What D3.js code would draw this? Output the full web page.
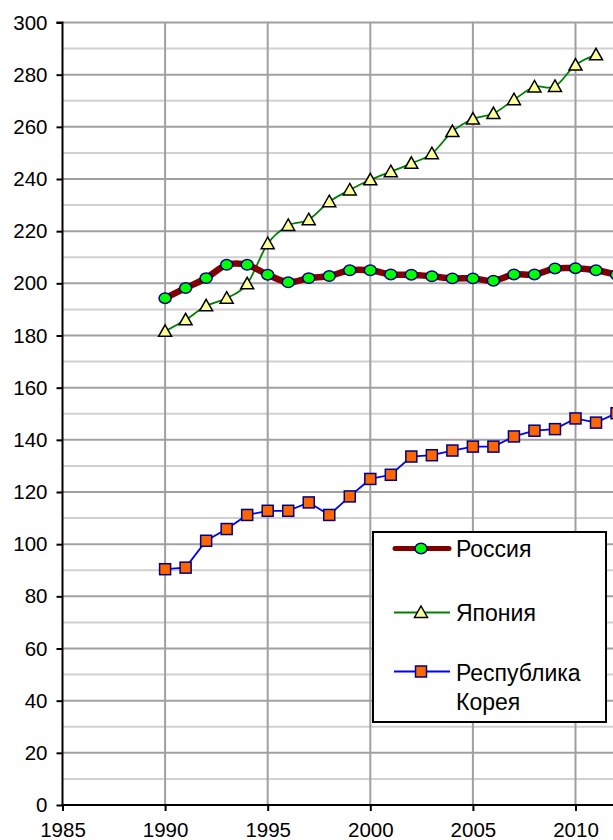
<!DOCTYPE html>
<html>
<head>
<meta charset="utf-8">
<script src="https://cdn.jsdelivr.net/npm/d3@7"></script>
<style>
  html, body { margin: 0; padding: 0; background: #fff; }
  svg { display: block; font-family: "Liberation Sans", Arial, sans-serif; }
</style>
</head>
<body>
<svg id="chart" width="613" height="840"></svg>
<script>
// ---- data ----
const years = [1990,1991,1992,1993,1994,1995,1996,1997,1998,1999,2000,2001,2002,2003,2004,2005,2006,2007,2008,2009,2010,2011,2012];
const russia = [194.3,198.2,202.0,207.1,207.1,203.3,200.4,202.0,202.8,205.0,205.0,203.4,203.3,202.7,201.9,201.9,201.0,203.4,203.4,205.7,205.8,205.0,203.3];
const japanYears = [1990,1991,1992,1993,1994,1995,1996,1997,1998,1999,2000,2001,2002,2003,2004,2005,2006,2007,2008,2009,2010,2011];
const japan = [181.6,186.0,191.4,194.3,199.8,215.2,222.2,224.4,231.3,235.8,239.7,242.8,246.0,249.7,258.2,263.0,265.1,270.4,275.3,275.5,283.7,287.6];
const korea = [90.4,91.0,101.3,105.8,111.2,112.8,112.8,116.0,111.2,118.3,125.0,126.6,133.6,134.1,135.9,137.4,137.4,141.3,143.5,144.1,148.2,146.6,150.2];
const xTicks = [1985,1990,1995,2000,2005,2010];
const yTicks = [0,20,40,60,80,100,120,140,160,180,200,220,240,260,280,300];
const yMinor = [10,30,50,70,90,110,130,150,170,190,210,230,250,270,290];
const legendNames = ["Россия", "Япония", ["Республика", "Корея"]];

// ---- scales ----
const svg = d3.select("#chart");
const x = d3.scaleLinear().domain([1985, 2015]).range([62.5, 62.5 + 30 * 20.52]);
const y = d3.scaleLinear().domain([0, 300]).range([805, 22.5]);
const right = 700;

// grid
const g = svg.append("g");
g.selectAll(".minor").data(yMinor).join("line")
  .attr("x1", x(1985)).attr("x2", right)
  .attr("y1", d => y(d)).attr("y2", d => y(d))
  .attr("stroke", "#d0d0d0").attr("stroke-width", 2);
g.selectAll(".major").data(yTicks.filter(d => d > 0)).join("line")
  .attr("x1", x(1985)).attr("x2", right)
  .attr("y1", d => y(d)).attr("y2", d => y(d))
  .attr("stroke", "#a0a0a0").attr("stroke-width", 2);
g.selectAll(".vgrid").data(xTicks.filter(d => d > 1985)).join("line")
  .attr("x1", d => x(d)).attr("x2", d => x(d))
  .attr("y1", y(300)).attr("y2", y(0))
  .attr("stroke", "#a0a0a0").attr("stroke-width", 2);

// axes
const yAxis = d3.axisLeft(y).tickValues(yTicks).tickSize(6).tickPadding(9).tickFormat(d3.format("d"));
const xAxis = d3.axisBottom(x).tickValues(xTicks).tickSize(6).tickPadding(11).tickFormat(d3.format("d"));
const ya = svg.append("g").attr("transform", `translate(${x(1985)},0)`).call(yAxis);
const xa = svg.append("g").attr("transform", `translate(0,${y(0)})`).call(xAxis);
[ya, xa].forEach(a => {
  a.select(".domain").attr("stroke", "#000").attr("stroke-width", 2);
  a.selectAll(".tick line").attr("stroke", "#000").attr("stroke-width", 2);
  a.selectAll(".tick text").attr("fill", "#000").style("font-size", "20.5px").style("font-family", "'Liberation Sans', Arial, sans-serif");
});
ya.select(".domain").attr("d", `M-6,${y(300)}H0V${y(0)}`);
xa.select(".domain").attr("d", `M${x(1985)},0H${right}`);

// series
const ptsR = years.map((yr, i) => [yr, russia[i]]);
const ptsJ = japanYears.map((yr, i) => [yr, japan[i]]);
const ptsK = years.map((yr, i) => [yr, korea[i]]);
const smooth = d3.line().x(d => x(d[0])).y(d => y(d[1])).curve(d3.curveCardinal.tension(0));
const straight = d3.line().x(d => x(d[0])).y(d => y(d[1]));

svg.append("path").attr("d", smooth(ptsJ)).attr("fill", "none").attr("stroke", "#008000").attr("stroke-width", 1.8);
svg.append("path").attr("d", straight(ptsK)).attr("fill", "none").attr("stroke", "#0000ff").attr("stroke-width", 1.8);
svg.append("path").attr("d", smooth(ptsR)).attr("fill", "none").attr("stroke", "#800000").attr("stroke-width", 6.5);

const tri = "M0,-6.5L6.5,5L-6.5,5Z";
function triangle(sel) {
  sel.attr("d", tri).attr("fill", "#ffff99").attr("stroke", "#000").attr("stroke-width", 1.5);
}
function square(sel) {
  sel.attr("x", -5.5).attr("y", -5.5).attr("width", 11).attr("height", 11)
    .attr("fill", "#ff6600").attr("stroke", "#000080").attr("stroke-width", 1.5);
}
function circle(sel) {
  sel.attr("rx", 6).attr("ry", 5.2).attr("fill", "#00ff00").attr("stroke", "#000080").attr("stroke-width", 1.5);
}

svg.append("g").selectAll("path").data(ptsJ).join("path")
  .attr("transform", d => `translate(${x(d[0])},${y(d[1])})`).call(triangle);
svg.append("g").selectAll("rect").data(ptsK).join("rect")
  .attr("transform", d => `translate(${x(d[0])},${y(d[1])})`).call(square);
svg.append("g").selectAll("ellipse").data(ptsR).join("ellipse")
  .attr("cx", d => x(d[0])).attr("cy", d => y(d[1])).call(circle);

// legend
const lg = svg.append("g");
lg.append("rect").attr("x", 373).attr("y", 532).attr("width", 233).attr("height", 190)
  .attr("fill", "#fff").attr("stroke", "#000").attr("stroke-width", 2);
const rows = [548.5, 612.5, 671.5];
const fs = "23px";
// Russia
lg.append("line").attr("x1", 395).attr("x2", 449).attr("y1", rows[0]).attr("y2", rows[0])
  .attr("stroke", "#800000").attr("stroke-width", 5).attr("stroke-linecap", "round");
lg.append("ellipse").attr("cx", 421).attr("cy", rows[0]).call(circle);
lg.append("text").attr("x", 456).attr("y", 557).style("font-size", fs).text(legendNames[0]);
// Japan
lg.append("line").attr("x1", 394).attr("x2", 450).attr("y1", rows[1]).attr("y2", rows[1])
  .attr("stroke", "#008000").attr("stroke-width", 1.8);
lg.append("path").attr("transform", `translate(421,${rows[1]})`).call(triangle);
lg.append("text").attr("x", 456).attr("y", 621).style("font-size", fs).text(legendNames[1]);
// Korea
lg.append("line").attr("x1", 394).attr("x2", 450).attr("y1", rows[2]).attr("y2", rows[2])
  .attr("stroke", "#0000ff").attr("stroke-width", 1.8);
lg.append("rect").attr("transform", `translate(421,${rows[2]})`).call(square);
lg.append("text").attr("x", 456).attr("y", 681).style("font-size", fs).text(legendNames[2][0]);
lg.append("text").attr("x", 456).attr("y", 710).style("font-size", fs).text(legendNames[2][1]);
</script>
</body>
</html>
